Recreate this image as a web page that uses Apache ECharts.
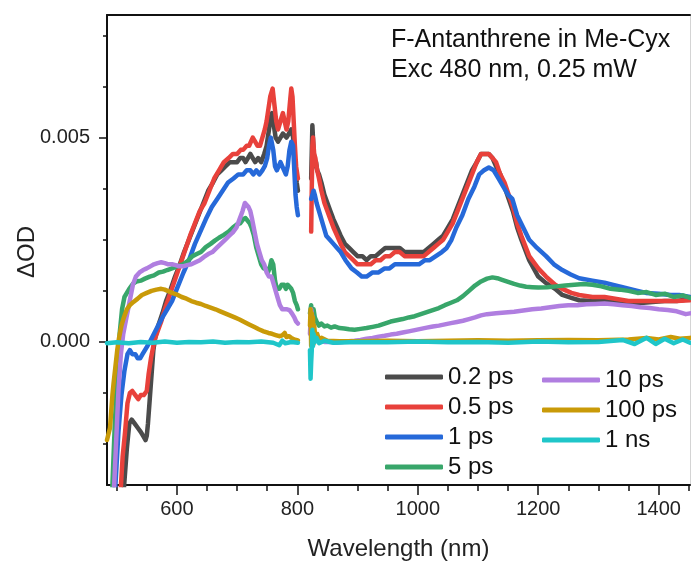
<!DOCTYPE html>
<html><head><meta charset="utf-8">
<script src="https://cdn.jsdelivr.net/npm/echarts@6/dist/echarts.min.js"></script>
<style>html,body{margin:0;padding:0;background:#fff}#c{width:691px;height:563px}</style>
</head><body><div id="c"></div>
<script>
const seriesNames = ['0.2 ps','0.5 ps','1 ps','5 ps','10 ps','100 ps','1 ns'];
const xMajorTicks = [600,800,1000,1200,1400];
const xMinorTicks = [500,550,650,700,750,850,900,950,1050,1100,1150,1250,1300,1350,1450];
const yMajorTicks = [0,0.005];
const yMinorTicks = [-0.0025,-0.00125,0.00125,0.0025,0.00375,0.00625,0.0075];

const s02 = [[505,-0.006],[512,-0.0036],[517,-0.0026],[521,-0.002],[525,-0.0019],[530,-0.002],[535,-0.0021],[540,-0.0022],[544,-0.0023],[548,-0.0024],[550,-0.0023],[552,-0.002],[555,-0.0014],[558,-0.0008],[561,-0.0002],[564,0.0001],[569,0.0004],[576,0.0007],[582,0.001],[590,0.0013],[597,0.0016],[605,0.0019],[612,0.0022],[620,0.0025],[628,0.0028],[636,0.0031],[644,0.0034],[652,0.0037],[660,0.0039],[667,0.0041],[674,0.0042],[681,0.0043],[688,0.0044],[694,0.0044],[700,0.0044],[705,0.0045],[710,0.0045],[714,0.0044],[718,0.0045],[722,0.0046],[726,0.0045],[730,0.0044],[735,0.0045],[740,0.0044],[745,0.0046],[749,0.0048],[753,0.0052],[756,0.0055],[758,0.0056],[761,0.0053],[764,0.005],[768,0.0049],[772,0.005],[776,0.0051],[779,0.0051],[782,0.005],[786,0.0051],[790,0.0052],[793,0.005],[796,0.0044],[799,0.0039],[801,0.0037],[812,null],[823,0.004],[825,0.0053],[827,0.0047],[829,0.0043],[831,0.0044],[833,0.0042],[836,0.0041],[840,0.0039],[845,0.0036],[850,0.0034],[855,0.0032],[860,0.003],[866,0.0028],[872,0.0026],[879,0.0024],[886,0.0023],[893,0.0022],[900,0.0021],[908,0.0021],[915,0.002],[922,0.0021],[930,0.0021],[938,0.0022],[946,0.0023],[954,0.0023],[962,0.0023],[970,0.0023],[978,0.0022],[986,0.0022],[994,0.0022],[1002,0.0022],[1010,0.0022],[1018,0.0023],[1026,0.0024],[1034,0.0025],[1042,0.0026],[1050,0.0028],[1058,0.003],[1066,0.0033],[1074,0.0036],[1082,0.0039],[1090,0.0042],[1098,0.0044],[1105,0.0046],[1112,0.0046],[1118,0.0046],[1124,0.0045],[1130,0.0043],[1137,0.0041],[1144,0.0038],[1151,0.0035],[1158,0.0032],[1165,0.0028],[1172,0.0025],[1185,0.002],[1200,0.0016],[1213,0.00144],[1228,0.0013],[1240,0.00115],[1255,0.00108],[1268,0.00102],[1290,0.001],[1310,0.001],[1330,0.00098],[1350,0.00095],[1370,0.00095],[1390,0.00098],[1410,0.001],[1430,0.001],[1452,0.00105]];

const s05 = [[503,-0.006],[506,-0.0038],[510,-0.0028],[514,-0.0022],[518,-0.0015],[522,-0.00125],[526,-0.0012],[531,-0.0013],[536,-0.0014],[540,-0.0013],[545,-0.0013],[550,-0.0012],[553,-0.0008],[557,-0.0004],[561,-0.0001],[564,0.0001],[569,0.0003],[574,0.0005],[580,0.0008],[587,0.0011],[594,0.0014],[601,0.0017],[608,0.002],[615,0.0023],[622,0.0026],[630,0.0029],[638,0.0032],[646,0.0034],[654,0.0037],[662,0.004],[670,0.0042],[678,0.0044],[686,0.0045],[693,0.0046],[700,0.0046],[706,0.0047],[710,0.0047],[716,0.0048],[720,0.0048],[726,0.005],[730,0.0049],[734,0.0048],[738,0.0048],[742,0.005],[746,0.0052],[749,0.0054],[752,0.0057],[755,0.006],[759,0.0062],[762,0.0058],[765,0.0054],[768,0.0052],[772,0.0054],[776,0.0056],[779,0.0054],[782,0.0052],[785,0.0054],[788,0.0059],[790,0.0062],[792,0.006],[794,0.0054],[796,0.0048],[798,0.0043],[801,0.004],[812,null],[823,0.0027],[825,0.0048],[826,0.005],[828,0.0046],[830,0.0045],[833,0.0042],[836,0.004],[840,0.0037],[845,0.0034],[850,0.0032],[855,0.003],[860,0.0028],[866,0.0026],[872,0.0024],[879,0.0022],[886,0.0021],[893,0.002],[900,0.0019],[908,0.0019],[915,0.0019],[922,0.0019],[930,0.002],[938,0.002],[946,0.0021],[954,0.0021],[962,0.0022],[970,0.0022],[978,0.0021],[986,0.0021],[994,0.0021],[1002,0.0021],[1010,0.0021],[1018,0.0022],[1026,0.0023],[1034,0.0024],[1042,0.0025],[1050,0.0027],[1058,0.0029],[1066,0.0032],[1074,0.0035],[1082,0.0038],[1090,0.0041],[1098,0.0044],[1105,0.0046],[1112,0.0046],[1118,0.0046],[1124,0.0045],[1130,0.0044],[1137,0.0041],[1144,0.0039],[1151,0.0036],[1158,0.0033],[1165,0.0029],[1172,0.0026],[1185,0.0021],[1200,0.0018],[1213,0.0016],[1228,0.0014],[1240,0.0013],[1255,0.0012],[1268,0.00115],[1290,0.0011],[1310,0.0011],[1330,0.00105],[1350,0.001],[1370,0.001],[1390,0.001],[1410,0.001],[1430,0.001],[1452,0.00102]];

const s1 = [[494,-0.006],[498,-0.0035],[503,-0.0022],[508,-0.0013],[513,-0.0007],[518,-0.0003],[522,-0.0002],[526,-0.0003],[531,-0.0003],[535,-0.0004],[539,-0.0004],[543,-0.0003],[547,-0.0002],[551,-0.0001],[555,0],[562,0.0002],[569,0.0004],[576,0.0006],[584,0.0008],[592,0.001],[600,0.0013],[611,0.0017],[620,0.002],[630,0.0024],[639,0.0027],[648,0.003],[658,0.0033],[667,0.0035],[676,0.0037],[685,0.0039],[694,0.004],[702,0.0041],[710,0.0041],[716,0.0042],[722,0.0042],[727,0.0041],[732,0.0042],[737,0.0041],[742,0.0042],[746,0.0043],[750,0.0045],[753,0.0048],[756,0.005],[758,0.005],[760,0.0047],[763,0.0043],[766,0.0042],[769,0.0043],[772,0.0044],[775,0.0044],[778,0.0042],[781,0.0041],[784,0.0043],[787,0.0047],[790,0.0049],[793,0.0048],[795,0.0042],[797,0.0036],[799,0.0033],[801,0.0031],[812,null],[823,0.0035],[825,0.0036],[827,0.0037],[829,0.0036],[832,0.0034],[836,0.0032],[842,0.0029],[848,0.0026],[854,0.0025],[860,0.0024],[866,0.0023],[872,0.0022],[880,0.002],[890,0.0018],[899,0.0017],[907,0.0016],[915,0.0016],[925,0.0017],[935,0.0017],[945,0.0018],[953,0.0018],[962,0.0019],[972,0.0019],[982,0.0019],[992,0.0019],[1002,0.0019],[1012,0.002],[1020,0.002],[1030,0.0021],[1040,0.0022],[1048,0.0023],[1056,0.0025],[1064,0.0028],[1074,0.0031],[1084,0.0035],[1094,0.0038],[1102,0.0041],[1110,0.0042],[1118,0.00427],[1126,0.0042],[1134,0.004],[1142,0.0038],[1150,0.0036],[1157,0.0035],[1165,0.0031],[1175,0.0028],[1185,0.0025],[1198,0.0023],[1213,0.0021],[1226,0.0019],[1240,0.00176],[1254,0.00165],[1268,0.00156],[1290,0.0015],[1310,0.00145],[1323,0.0014],[1345,0.00132],[1365,0.00125],[1379,0.0012],[1400,0.00118],[1420,0.00115],[1434,0.00115],[1452,0.0011]];

const s5 = [[488,-0.006],[493,-0.0035],[497,-0.002],[501,-0.0008],[505,0.0002],[509,0.0008],[513,0.0011],[517,0.0012],[521,0.0013],[527,0.00142],[533,0.00148],[540,0.0015],[547,0.00155],[555,0.0016],[562,0.00163],[570,0.0017],[577,0.00172],[584,0.00176],[592,0.0018],[600,0.00185],[610,0.0019],[618,0.00198],[626,0.0021],[633,0.00215],[640,0.0022],[648,0.00232],[656,0.0024],[663,0.00248],[670,0.00255],[678,0.00262],[686,0.0027],[693,0.0028],[700,0.00288],[705,0.0029],[710,0.003],[714,0.00303],[717,0.003],[721,0.0029],[724,0.0028],[728,0.0026],[732,0.0023],[736,0.0021],[740,0.0019],[744,0.0018],[748,0.0018],[751,0.0017],[754,0.0018],[757,0.002],[760,0.0019],[763,0.0015],[766,0.0013],[770,0.0013],[774,0.0014],[778,0.0014],[781,0.0013],[784,0.0014],[787,0.0014],[790,0.0013],[793,0.0012],[796,0.001],[799,0.0009],[801,0.0008],[812,null],[821,0.0007],[823,0.0009],[825,0.0005],[827,0.0008],[829,0.0006],[832,0.0005],[836,0.0004],[840,0.00045],[845,0.00038],[850,0.0004],[856,0.00035],[862,0.00038],[870,0.00034],[878,0.00033],[886,0.00031],[895,0.0003],[905,0.00032],[915,0.00034],[925,0.00037],[935,0.0004],[945,0.00045],[955,0.0005],[965,0.00053],[975,0.00056],[985,0.0006],[995,0.00063],[1005,0.00068],[1015,0.00073],[1025,0.00078],[1035,0.00083],[1045,0.0009],[1055,0.00096],[1065,0.00102],[1075,0.00112],[1085,0.00125],[1095,0.00138],[1105,0.00148],[1115,0.00155],[1124,0.00158],[1132,0.00156],[1140,0.00152],[1150,0.00147],[1160,0.00142],[1170,0.00138],[1180,0.00135],[1190,0.00134],[1200,0.00133],[1215,0.00134],[1230,0.00136],[1245,0.00138],[1260,0.0014],[1275,0.00142],[1290,0.0014],[1305,0.00136],[1320,0.0013],[1335,0.00128],[1350,0.00125],[1365,0.0012],[1380,0.00122],[1395,0.00115],[1410,0.00118],[1425,0.0011],[1440,0.00114],[1452,0.00108]];

const s10 = [[490,-0.006],[495,-0.0038],[499,-0.0025],[503,-0.0012],[507,-0.0003],[511,0.0002],[515,0.0005],[519,0.0008],[523,0.0011],[527,0.0014],[532,0.0016],[538,0.0017],[544,0.00176],[550,0.0018],[556,0.00185],[562,0.0019],[568,0.00193],[574,0.00195],[580,0.00193],[586,0.0019],[592,0.0019],[598,0.00188],[604,0.00185],[610,0.00185],[617,0.00188],[624,0.0019],[631,0.00195],[638,0.002],[645,0.00208],[652,0.00215],[659,0.0022],[666,0.0023],[673,0.0024],[680,0.0025],[687,0.0026],[693,0.00268],[699,0.0028],[704,0.003],[709,0.0032],[713,0.0034],[716,0.00343],[719,0.0033],[722,0.0032],[725,0.003],[729,0.0027],[733,0.0024],[737,0.0022],[741,0.002],[745,0.0019],[749,0.0017],[753,0.0016],[757,0.0016],[760,0.00145],[763,0.0013],[767,0.0011],[771,0.0009],[775,0.0008],[779,0.0008],[783,0.0008],[787,0.00078],[791,0.0007],[795,0.0006],[798,0.0005],[801,0.00045],[812,null],[821,0.0002],[823,0.0008],[825,0.0006],[827,0.0002],[830,0.0001],[835,0.00005],[845,0],[855,0],[865,-0.00002],[875,0],[885,0.00002],[895,0.00003],[905,0.00005],[915,0.00008],[925,0.0001],[935,0.00013],[945,0.00015],[955,0.00018],[965,0.0002],[975,0.00023],[985,0.00026],[995,0.00029],[1005,0.00032],[1015,0.00035],[1025,0.00038],[1035,0.0004],[1045,0.00043],[1055,0.00046],[1065,0.00049],[1075,0.00052],[1085,0.00056],[1095,0.0006],[1105,0.00065],[1115,0.00068],[1130,0.0007],[1145,0.00072],[1160,0.00074],[1175,0.00077],[1190,0.0008],[1205,0.00082],[1220,0.00085],[1235,0.00088],[1250,0.0009],[1265,0.0009],[1280,0.00092],[1295,0.00093],[1310,0.00094],[1325,0.00092],[1340,0.0009],[1355,0.00088],[1370,0.00085],[1385,0.00083],[1400,0.0008],[1415,0.00078],[1430,0.00075],[1445,0.00068],[1452,0.0007]];

const s100 = [[484,-0.0024],[489,-0.0021],[491,-0.0017],[493,-0.0013],[495,-0.001],[498,-0.0006],[501,-0.0002],[504,0.0001],[508,0.0004],[512,0.0006],[517,0.0008],[522,0.0009],[528,0.00098],[535,0.00106],[542,0.00115],[550,0.0012],[558,0.00125],[566,0.00128],[574,0.0013],[580,0.00128],[586,0.00124],[592,0.0012],[600,0.00116],[608,0.0011],[616,0.00106],[624,0.001],[632,0.00096],[640,0.00093],[648,0.00088],[656,0.00084],[664,0.0008],[672,0.00075],[680,0.0007],[688,0.00065],[696,0.0006],[704,0.00055],[712,0.00049],[720,0.00043],[728,0.00037],[736,0.00031],[744,0.00026],[752,0.00022],[758,0.0002],[764,0.00017],[770,0.00014],[775,0.00016],[779,0.00022],[782,0.00012],[786,0.00014],[790,0.0001],[795,0.00006],[801,0.00004],[812,null],[821,0.0004],[822,0.0008],[823,-0.0001],[824,0.0007],[825,0.0002],[826,0.0006],[827,-0.00005],[828,0.0004],[830,0.0001],[833,0.0002],[836,0.00005],[840,0.0001],[850,0.00003],[870,0.00002],[900,0.00002],[950,0.00003],[1000,0.00002],[1050,0.00003],[1100,0.00004],[1150,0.00003],[1200,0.00004],[1250,0.00005],[1300,0.00004],[1350,0.00006],[1380,0.0001],[1400,0.00006],[1420,0.00012],[1435,0.00008],[1452,0.0001]];

const s1ns = [[484,-0.00003],[500,-0.00001],[520,-0.00003],[540,0],[560,-0.00002],[580,0.00001],[600,-0.00002],[620,0],[640,-0.00001],[660,0.00001],[680,-0.00002],[700,0],[720,-0.00001],[740,0.00001],[760,-0.00002],[770,-0.00008],[775,0.00003],[780,-0.00003],[790,0],[801,-0.00002],[812,null],[821,-0.0002],[822,-0.0009],[823,-0.0005],[824,-0.0002],[825,0.0003],[826,-0.0001],[827,0.0002],[829,0],[832,0.0001],[836,-0.00003],[845,0.00003],[860,-0.00002],[900,0],[950,-0.00001],[1000,0.00001],[1050,-0.00001],[1100,0],[1150,-0.00002],[1200,0.00001],[1250,-0.00001],[1300,0],[1340,0.00005],[1360,-0.00005],[1380,0.0001],[1395,-0.00005],[1410,0.00008],[1425,-0.00003],[1440,0.00006],[1452,-0.00002]];

const seriesData = [s02, s05, s1, s5, s10, s100, s1ns];
const colors = ['#4b4b4b','#e8413b','#2669d9','#38a66a','#b07ee0','#c99a08','#1fc6c9'];

const FONT = 'Liberation Sans, Arial, sans-serif';
const XMIN = 484, XMAX = 1452, YMIN = -0.0035, YMAX = 0.008;

const chart = echarts.init(document.getElementById('c'), null, {renderer:'canvas'});
const option = {
  animation: false,
  backgroundColor: '#fff',
  grid: {left:107, right:1, top:15, bottom:78, containLabel:false, outerBoundsMode:'none'},
  xAxis: [
    {type:'value', min:XMIN, max:XMAX, position:'bottom',
     axisLine:{show:true, onZero:false, lineStyle:{color:'#111', width:2}},
     axisTick:{show:true, customValues:xMajorTicks, length:10, inside:false, lineStyle:{color:'#111', width:1.5}},
     axisLabel:{show:true, customValues:xMajorTicks, margin:14, color:'#222', fontSize:20, fontFamily:FONT,
       formatter: v => String(Math.round(v))},
     splitLine:{show:false},
     name:'Wavelength (nm)', nameLocation:'middle', nameGap:52,
     nameTextStyle:{fontSize:24, color:'#222', fontFamily:FONT}},
    {type:'value', min:XMIN, max:XMAX, position:'bottom', offset:0,
     axisLine:{show:false, onZero:false},
     axisTick:{show:true, customValues:xMinorTicks, length:6, lineStyle:{color:'#111', width:1.5}},
     axisLabel:{show:false}, splitLine:{show:false}},
    {type:'value', min:XMIN, max:XMAX, position:'top',
     axisLine:{show:true, onZero:false, lineStyle:{color:'#111', width:2}},
     axisTick:{show:false}, axisLabel:{show:false}, splitLine:{show:false}}
  ],
  yAxis: [
    {type:'value', min:YMIN, max:YMAX, position:'left',
     axisLine:{show:true, onZero:false, lineStyle:{color:'#111', width:2}},
     axisTick:{show:true, customValues:yMajorTicks, length:8, lineStyle:{color:'#111', width:1.5}},
     axisLabel:{show:true, customValues:yMajorTicks, margin:17, color:'#222', fontSize:20, fontFamily:FONT,
       formatter: v => Number(v).toFixed(3)},
     splitLine:{show:false}},
    {type:'value', min:YMIN, max:YMAX, position:'left',
     axisLine:{show:false, onZero:false},
     axisTick:{show:true, customValues:yMinorTicks, length:4, lineStyle:{color:'#111', width:1.5}},
     axisLabel:{show:false}, splitLine:{show:false}},
    {type:'value', min:YMIN, max:YMAX, position:'right',
     axisLine:{show:true, onZero:false, lineStyle:{color:'#d4d4d4', width:1}},
     axisTick:{show:false}, axisLabel:{show:false}, splitLine:{show:false}}
  ],
  legend: [
    {orient:'vertical', left:385, top:365, padding:0, itemWidth:58, itemHeight:5, itemGap:6,
     icon:'roundRect', data:seriesNames.slice(0,4),
     textStyle:{fontSize:24, lineHeight:24, color:'#111', fontFamily:FONT}},
    {orient:'vertical', left:542, top:368, padding:0, itemWidth:58, itemHeight:5, itemGap:6,
     icon:'roundRect', data:seriesNames.slice(4),
     textStyle:{fontSize:24, lineHeight:24, color:'#111', fontFamily:FONT}}
  ],
  graphic: [
    {type:'text', left:391, top:28, style:{text:'F-Antanthrene in Me-Cyx', fontSize:25, fill:'#111', fontFamily:FONT}},
    {type:'text', left:391, top:58, style:{text:'Exc 480 nm, 0.25 mW', fontSize:25, fill:'#111', fontFamily:FONT}},
    {type:'text', x:27, y:252, rotation:Math.PI/2,
     style:{text:'\u0394OD', fontSize:24, fill:'#222', fontFamily:FONT, align:'center', verticalAlign:'middle'}}
  ],
  series: seriesNames.map((n,i) => ({
    name:n, type:'line', data:seriesData[i], xAxisIndex:0, yAxisIndex:0,
    showSymbol:false, symbol:'none', connectNulls:false, clip:true,
    lineStyle:{color:colors[i], width:4.5, cap:'round', join:'round'},
    itemStyle:{color:colors[i]}
  }))
};
chart.setOption(option);
</script></body></html>
